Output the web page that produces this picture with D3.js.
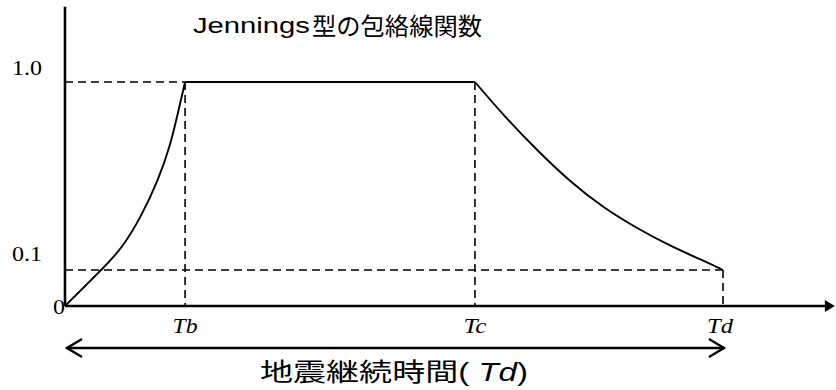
<!DOCTYPE html>
<html>
<head>
<meta charset="utf-8">
<script src="https://cdn.jsdelivr.net/npm/d3@7"></script>
<style>
  body { margin: 0; background: #fff; }
  svg { display: block; }
  .serif { font-family: "Liberation Serif", "DejaVu Serif", serif; }
  .sans { font-family: "Liberation Sans", Arial, "Noto Sans CJK JP", sans-serif; }
  .cjk { font-family: "Noto Sans CJK JP", sans-serif; }
</style>
</head>
<body>
<svg width="836" height="390"></svg>
<script>
// time markers (schematic units, Td = 20)
var phases = ["Tb", "Tc", "Td"]
var phaseTimes = [3.65, 12.46, 20]
var tAxisEnd = 23.4

// envelope levels shown on the y axis
var levelLabels = ["1.0", "0.1"]
var levelValues = [1.0, 0.1]

// rising part (t, amplitude)
var riseT = [0, 0.55, 1.10, 1.72, 2.33, 2.83, 3.19, 3.43, 3.65]
var riseA = [0, 0.05, 0.10, 0.20, 0.36, 0.53, 0.69, 0.85, 1.0]

// decaying part
var decayT = [12.46, 13.32, 14.34, 15.35, 16.36, 17.38, 18.39, 19.40, 20]
var decayA = [1.0, 0.842, 0.674, 0.523, 0.398, 0.300, 0.215, 0.145, 0.1]

var yAxisTop = 1.36

var svg = d3.select("svg")

var x = d3.scaleLinear().domain([0, 20]).range([65, 723])
// the picture is a sketch: 0..0.1 is stretched, so piecewise
var y = d3.scaleLinear().domain([0, 0.1, 1]).range([306, 270, 82])

// dashed guides
var dash = svg.append("g")
    .attr("stroke", "#000")
    .attr("stroke-width", 1.6)
    .attr("stroke-dasharray", "8,5")
    .attr("fill", "none")

dash.append("line")
    .attr("x1", x(0)).attr("x2", x(phaseTimes[0]))
    .attr("y1", y(1)).attr("y2", y(1))
dash.append("line")
    .attr("x1", x(0)).attr("x2", x(phaseTimes[2]))
    .attr("y1", y(0.1)).attr("y2", y(0.1))
dash.append("line")
    .attr("x1", x(phaseTimes[0])).attr("x2", x(phaseTimes[0]))
    .attr("y1", y(1)).attr("y2", y(0))
dash.append("line")
    .attr("x1", x(phaseTimes[1])).attr("x2", x(phaseTimes[1]))
    .attr("y1", y(1)).attr("y2", y(0))
dash.append("line")
    .attr("x1", x(phaseTimes[2])).attr("x2", x(phaseTimes[2]))
    .attr("y1", y(0.1)).attr("y2", y(0))

// envelope curve
var smooth = d3.line().x(d => x(d[0])).y(d => y(d[1])).curve(d3.curveBasis)
var straight = d3.line().x(d => x(d[0])).y(d => y(d[1]))

svg.append("path")
    .datum(riseT.map((t, i) => [t, riseA[i]]))
    .attr("d", smooth)
    .attr("fill", "none").attr("stroke", "#000").attr("stroke-width", 1.9)
svg.append("path")
    .datum([[phaseTimes[0], 1], [phaseTimes[1], 1]])
    .attr("d", straight)
    .attr("fill", "none").attr("stroke", "#000").attr("stroke-width", 1.9)
svg.append("path")
    .datum(decayT.map((t, i) => [t, decayA[i]]))
    .attr("d", smooth)
    .attr("fill", "none").attr("stroke", "#000").attr("stroke-width", 1.9)

// axes
svg.append("line")
    .attr("x1", x(0)).attr("x2", x(0))
    .attr("y1", y(yAxisTop)).attr("y2", y(0))
    .attr("stroke", "#000").attr("stroke-width", 2.6)
svg.append("line")
    .attr("x1", x(0)).attr("x2", x(tAxisEnd) - 6)
    .attr("y1", y(0)).attr("y2", y(0))
    .attr("stroke", "#000").attr("stroke-width", 2.6)
svg.append("path")
    .attr("d", `M${x(tAxisEnd)},${y(0)} L${x(tAxisEnd) - 10},${y(0) - 6} L${x(tAxisEnd) - 10},${y(0) + 6} Z`)
    .attr("fill", "#000")

// y labels
var lvl = svg.append("g").attr("class", "serif").attr("font-size", 20)
lvl.selectAll("text")
  .data(levelLabels)
  .join("text")
    .attr("x", 12)
    .attr("y", (d, i) => y(levelValues[i]) - (i == 0 ? 7 : 9))
    .attr("textLength", 30)
    .attr("lengthAdjust", "spacingAndGlyphs")
    .text(d => d)
svg.append("text")
    .attr("class", "serif")
    .attr("font-size", 22)
    .attr("x", 53).attr("y", y(0) + 8)
    .attr("textLength", 12)
    .attr("lengthAdjust", "spacingAndGlyphs")
    .text("0")

// phase labels
var lens = [25, 23, 26]
svg.append("g").attr("class", "serif").attr("font-size", 21).attr("font-style", "italic")
  .selectAll("text")
  .data(phases)
  .join("text")
    .attr("x", (d, i) => x(phaseTimes[i]) - lens[i] / 2 - (i == 2 ? 3 : 0))
    .attr("y", y(0) + 27)
    .attr("textLength", (d, i) => lens[i])
    .attr("lengthAdjust", "spacingAndGlyphs")
    .text(d => d)

// duration arrow
var ay = y(0) + 42
var arr = svg.append("g").attr("stroke", "#000").attr("stroke-width", 2.4).attr("fill", "none")
arr.append("line").attr("x1", x(0) + 1).attr("x2", x(phaseTimes[2]) + 1).attr("y1", ay).attr("y2", ay)
arr.append("path").attr("d", `M${x(0) + 17},${ay - 9} L${x(0) + 2},${ay} L${x(0) + 17},${ay + 9}`)
arr.append("path").attr("d", `M${x(phaseTimes[2]) - 14},${ay - 9} L${x(phaseTimes[2]) + 1},${ay} L${x(phaseTimes[2]) - 14},${ay + 9}`)

// title (latin and kanji parts sized separately)
svg.append("text")
    .attr("class", "sans")
    .attr("font-size", 22)
    .attr("x", 193).attr("y", 33)
    .attr("textLength", 117)
    .attr("lengthAdjust", "spacingAndGlyphs")
    .text("Jennings")
svg.append("text")
    .attr("class", "cjk")
    .attr("font-size", 24)
    .attr("x", 312).attr("y", 35)
    .attr("textLength", 170)
    .attr("lengthAdjust", "spacingAndGlyphs")
    .text("型の包絡線関数")

// bottom label
var bl = svg.append("text")
    .attr("class", "sans")
    .attr("font-size", 25)
    .attr("x", 260).attr("y", 381)
    .attr("textLength", 268)
    .attr("lengthAdjust", "spacingAndGlyphs")
bl.append("tspan").text("地震継続時間( ")
bl.append("tspan").attr("font-style", "italic").text("Td")
bl.append("tspan").text(")")
</script>
</body>
</html>
